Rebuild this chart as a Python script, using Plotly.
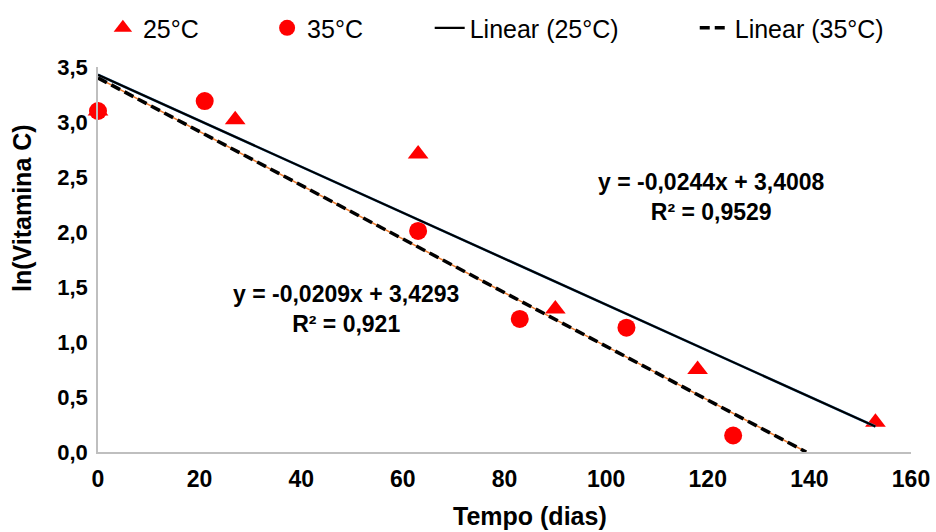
import plotly.graph_objects as go

# ---- data ----
dias_25 = [0, 27, 63, 90, 118, 153]
lnc_25 = [3.10, 3.02, 2.71, 1.30, 0.75, 0.27]

dias_35 = [0, 21, 63, 83, 104, 125]
lnc_35 = [3.10, 3.19, 2.01, 1.21, 1.13, 0.15]

# trendline coefficients (slope, intercept) as drawn
fit_25 = [-0.0209, 3.4293]
fit_35 = [-0.0244, 3.4008]

eq_25 = "y = -0,0209x + 3,4293<br>R² = 0,921"
eq_35 = "y = -0,0244x + 3,4008<br>R² = 0,9529"

x_ticks = [0, 20, 40, 60, 80, 100, 120, 140, 160]
y_ticks = [0.0, 0.5, 1.0, 1.5, 2.0, 2.5, 3.0, 3.5]
y_ticktext = ["0,0", "0,5", "1,0", "1,5", "2,0", "2,5", "3,0", "3,5"]

# trendline x extents
x_line_25 = [0, max(dias_25)]
x_line_35 = [0, fit_35[1] / -fit_35[0]]
y_line_25 = [fit_25[0] * x + fit_25[1] for x in x_line_25]
y_line_35 = [fit_35[0] * x + fit_35[1] for x in x_line_35]

RED = "#FF0000"
FONT = "Liberation Sans"

fig = go.Figure()

fig.add_trace(go.Scatter(
    x=dias_25, y=lnc_25, mode="markers", name="25°C",
    marker=dict(symbol="triangle-up", size=18, color=RED),
    cliponaxis=False, legend="legend"))
fig.add_trace(go.Scatter(
    x=dias_35, y=lnc_35, mode="markers", name="35°C",
    marker=dict(symbol="circle", size=18, color=RED),
    cliponaxis=False, legend="legend2"))

# underlay colour lines (as in the original)
fig.add_trace(go.Scatter(
    x=x_line_25, y=y_line_25, mode="lines", showlegend=False,
    line=dict(color="#5B9BD5", width=2.6), hoverinfo="skip"))
fig.add_trace(go.Scatter(
    x=x_line_35, y=y_line_35, mode="lines", showlegend=False,
    line=dict(color="#ED7D31", width=1.5), hoverinfo="skip"))

fig.add_trace(go.Scatter(
    x=x_line_25, y=y_line_25, mode="lines", name="Linear (25°C)",
    line=dict(color="black", width=2.2), legend="legend3"))
fig.add_trace(go.Scatter(
    x=x_line_35, y=y_line_35, mode="lines", name="Linear (35°C)",
    line=dict(color="black", width=3.5, dash="10px,5px"), legend="legend4"))

leg_common = dict(orientation="h", yanchor="middle", xanchor="left",
                  font=dict(family=FONT, size=25, color="black"),
                  bgcolor="rgba(0,0,0,0)", borderwidth=0)

fig.update_layout(
    width=936, height=532,
    margin=dict(l=98, r=25, t=67, b=80, autoexpand=False),
    plot_bgcolor="white", paper_bgcolor="white",
    font=dict(family=FONT, color="black"),
    legend=dict(x=0.006, y=1.101, **leg_common),
    legend2=dict(x=0.208, y=1.101, **leg_common),
    legend3=dict(x=0.408, y=1.101, **leg_common),
    legend4=dict(x=0.734, y=1.101, **leg_common),
    xaxis=dict(range=[0, 160], tickvals=x_ticks, showgrid=False, zeroline=False,
               showline=True, linecolor="#BFBFBF", linewidth=1.5, automargin=False,
               ticks="outside", ticklen=6, tickcolor="rgba(0,0,0,0)",
               tickfont=dict(family=FONT, size=23, color="black", weight="bold")),
    yaxis=dict(range=[0, 3.5], tickvals=y_ticks, ticktext=y_ticktext,
               showgrid=False, zeroline=False, automargin=False,
               showline=True, linecolor="#BFBFBF", linewidth=1.5,
               ticks="outside", ticklen=4, tickcolor="rgba(0,0,0,0)",
               tickfont=dict(family=FONT, size=22, color="black", weight="bold")),
)

ann_font = dict(family=FONT, size=23, color="black", weight="bold")
fig.add_annotation(x=120.8, y=2.32, xref="x", yref="y", text=eq_35,
                   showarrow=False, align="center", font=ann_font)
fig.add_annotation(x=48.8, y=1.30, xref="x", yref="y", text=eq_25,
                   showarrow=False, align="center", font=ann_font)

title_font = dict(family=FONT, size=25, color="black", weight="bold")
fig.add_annotation(x=530, y=516, xref="paper", yref="paper", text="Tempo (dias)",
                   showarrow=False, font=title_font,
                   xanchor="center", yanchor="middle")
fig.add_annotation(x=22, y=208, xref="paper", yref="paper", text="ln(Vitamina C)",
                   showarrow=False, textangle=-90, font=title_font,
                   xanchor="center", yanchor="middle")

# convert pixel positions of axis titles to paper coordinates
PL, PR, PT, PB = 98, 936 - 25, 67, 532 - 80
for a in fig.layout.annotations[2:]:
    a.x = (a.x - PL) / (PR - PL)
    a.y = (PB - a.y) / (PB - PT)

fig.write_html(
    "out.html",
    config={"displayModeBar": False},
    post_script="document.body.style.margin='0';document.body.style.overflow='hidden';",
)
